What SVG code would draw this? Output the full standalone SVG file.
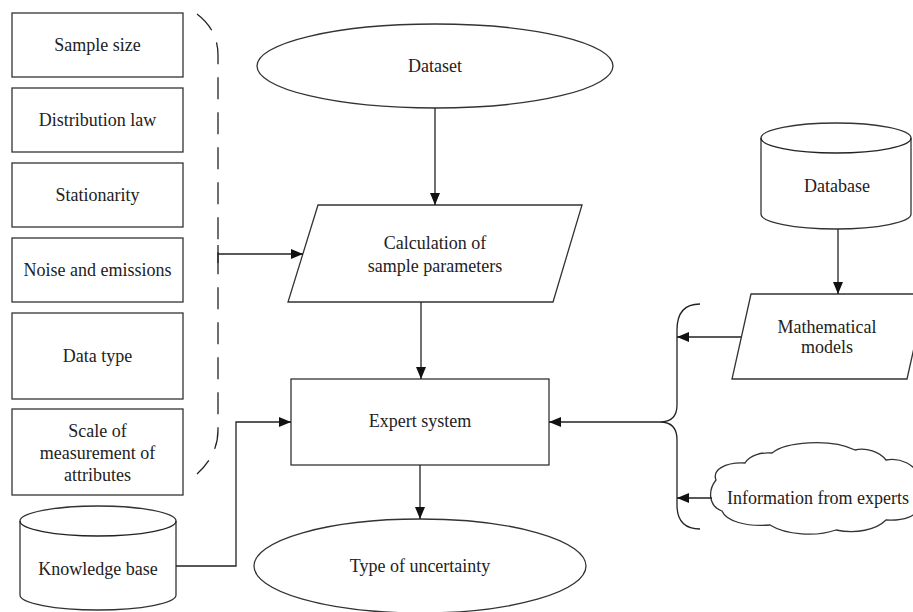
<svg xmlns="http://www.w3.org/2000/svg" width="913" height="612" viewBox="0 0 913 612">
<style>
.s{fill:#fff;stroke:#333;stroke-width:1.3}
.t{font-family:"Liberation Serif","Times New Roman",serif;font-size:18px;fill:#222;text-anchor:middle}
.c{fill:none;stroke:#222;stroke-width:1.3}
</style>
<defs>
<marker id="ah" markerWidth="12" markerHeight="10" refX="12" refY="5" orient="auto" markerUnits="userSpaceOnUse">
<path d="M0,0 L12,5 L0,10 Z" fill="#111"/>
</marker>
</defs>
<rect width="913" height="612" fill="#fff"/>

<g id="sample-size"><rect class="s" x="12" y="13" width="171" height="64"/><text class="t" x="97.5" y="51">Sample size</text></g>
<g id="distribution-law"><rect class="s" x="12" y="88" width="171" height="64"/><text class="t" x="97.5" y="126">Distribution law</text></g>
<g id="stationarity"><rect class="s" x="12" y="163" width="171" height="64"/><text class="t" x="97.5" y="201">Stationarity</text></g>
<g id="noise"><rect class="s" x="12" y="238" width="171" height="64"/><text class="t" x="97.5" y="276">Noise and emissions</text></g>
<g id="data-type"><rect class="s" x="12" y="313" width="171" height="86"/><text class="t" x="97.5" y="362">Data type</text></g>
<g id="scale"><rect class="s" x="12" y="409" width="171" height="86"/>
<text class="t" x="97.5" y="437">Scale of</text>
<text class="t" x="97.5" y="459">measurement of</text>
<text class="t" x="97.5" y="481">attributes</text></g>

<g id="bracket-left"><path class="c" d="M197,14 Q218,30 218,55 L218,430 Q218,455 197,474" stroke-dasharray="22 13"/></g>

<g id="dataset"><ellipse class="s" cx="435" cy="66" rx="178" ry="42"/><text class="t" x="435" y="72">Dataset</text></g>

<g id="calculation"><path class="s" d="M318,205 L582,205 L553,302 L288,302 Z"/>
<text class="t" x="435" y="249">Calculation of</text>
<text class="t" x="435" y="272">sample parameters</text></g>

<g id="expert-system"><rect class="s" x="291" y="379" width="258" height="86"/><text class="t" x="420" y="427">Expert system</text></g>

<g id="uncertainty"><ellipse class="s" cx="420" cy="566" rx="166" ry="47"/><text class="t" x="420" y="572">Type of uncertainty</text></g>

<g id="knowledge-base"><path class="s" d="M20,521 A78,15 0 0 1 176,521 L176,595 A78,15 0 0 1 20,595 Z"/><path class="c" d="M20,521 A78,15 0 0 0 176,521"/><text class="t" x="98" y="575">Knowledge base</text></g>

<g id="database"><path class="s" d="M761,138 A75,15 0 0 1 911,138 L911,214 A75,15 0 0 1 761,214 Z"/><path class="c" d="M761,138 A75,15 0 0 0 911,138"/><text class="t" x="837" y="192">Database</text></g>

<g id="math-models"><path class="s" d="M751,294 L926,294 L907,379 L732,379 Z"/>
<text class="t" x="827" y="333">Mathematical</text>
<text class="t" x="827" y="353">models</text></g>

<g id="experts-info"><path class="s" d="M716,480 C712,470 725,462 745,463 C750,455 762,452 772,453 C785,442 830,438 855,450 C866,447 880,452 886,460 C900,457 916,465 918,476 L918,508 C916,516 905,521 886,520 C876,530 856,534 836,530 C816,537 786,535 770,525 C746,527 726,521 722,511 C708,506 708,490 716,480 Z"/>
<text class="t" x="818" y="504">Information from experts</text></g>

<g id="brace-right"><path class="c" d="M700,304 Q677,304 677,330 L677,405 Q677,422 660,422 Q677,422 677,440 L677,505 Q677,529 700,529"/></g>

<g id="connectors">
<line class="c" x1="435" y1="108" x2="435" y2="205" marker-end="url(#ah)"/>
<line class="c" x1="421" y1="302" x2="421" y2="379" marker-end="url(#ah)"/>
<line class="c" x1="420" y1="465" x2="420" y2="519" marker-end="url(#ah)"/>
<line class="c" x1="218" y1="245" x2="218" y2="263"/>
<line class="c" x1="218" y1="254" x2="303" y2="254" marker-end="url(#ah)"/>
<polyline class="c" points="176,566 236,566 236,422 291,422" marker-end="url(#ah)"/>
<line class="c" x1="838" y1="229" x2="838" y2="294" marker-end="url(#ah)"/>
<line class="c" x1="741" y1="337" x2="677" y2="337" marker-end="url(#ah)"/>
<line class="c" x1="660" y1="422" x2="549" y2="422" marker-end="url(#ah)"/>
<line class="c" x1="712" y1="498" x2="677" y2="498" marker-end="url(#ah)"/>
</g>
</svg>
